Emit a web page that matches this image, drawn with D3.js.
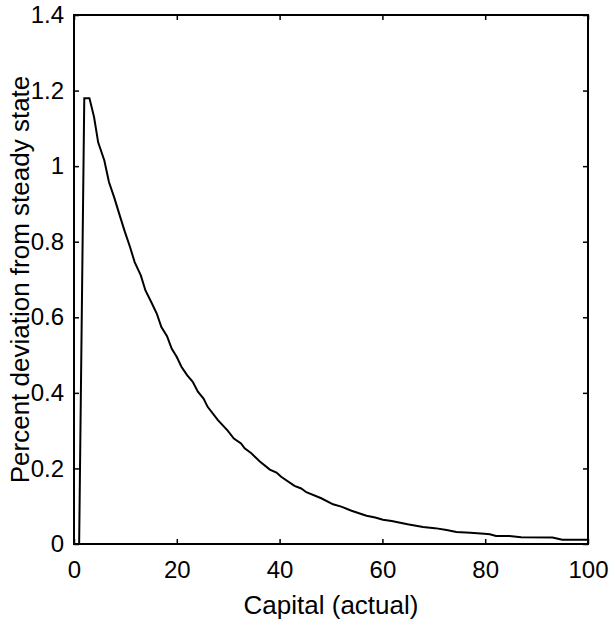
<!DOCTYPE html>
<html lang="en">
  <head>
    <meta charset="UTF-8" />
    <title>Capital impulse response</title>
    <script src="https://d3js.org/d3.v7.min.js"></script>
    <style>
      body { margin: 0; background: #fff; }
      svg text { font-family: 'Liberation Sans', Arial, sans-serif; fill: #000; }
    </style>
  </head>

  <body>
    <div class="chart"></div>

    <script>
      // values
      let capital = [1, 2, 3, 3.9, 4.7, 5.9, 6.8, 7.8, 9, 9.9, 10.9, 11.8, 13, 13.9, 15,
        16.1, 17, 18.1, 19, 20, 20.9, 22, 23.1, 24.1, 25.2, 26, 28, 29.9, 31.1, 32.5,
        33.2, 34.5, 36.1, 38.1, 39.4, 40.3, 42.9, 44.2, 45.2, 48.1, 50.4, 52, 54, 56.9,
        58.6, 60.1, 61.8, 64.9, 67.9, 70.2, 72.5, 74.4, 77.1, 79.8, 80.9, 82.1, 84.7,
        87, 93.1, 95, 100]
      let deviation = [0, 1.18, 1.18, 1.13, 1.063, 1.015, 0.958, 0.918, 0.865, 0.826,
        0.786, 0.746, 0.711, 0.671, 0.641, 0.61, 0.574, 0.55, 0.517, 0.495, 0.469,
        0.447, 0.429, 0.403, 0.385, 0.363, 0.328, 0.3, 0.279, 0.266, 0.253, 0.24,
        0.219, 0.197, 0.189, 0.178, 0.154, 0.147, 0.137, 0.121, 0.105, 0.099, 0.088,
        0.075, 0.07, 0.064, 0.061, 0.052, 0.045, 0.042, 0.037, 0.032, 0.03, 0.027,
        0.026, 0.021, 0.021, 0.018, 0.017, 0.011, 0.011]
      let xTicks = [0, 20, 40, 60, 80, 100]
      let yTicks = [0, 0.2, 0.4, 0.6, 0.8, 1, 1.2, 1.4]
      let xTitle = 'Capital (actual)'
      let yTitle = 'Percent deviation from steady state'

      let width = 615
      let height = 629
      let box = { left: 74, right: 588, top: 15, bottom: 544 }
      let tickLen = 5

      let x = d3.scaleLinear().domain([0, 100]).range([box.left, box.right])
      let y = d3.scaleLinear().domain([0, 1.4]).range([box.bottom, box.top])

      let svg = d3
        .select('div.chart')
        .append('svg')
        .attr('width', width)
        .attr('height', height)

      // matlab style: ticks point inward on all four sides, no domain path
      let fmt = d => d3.format('')(+d.toFixed(1))
      svg.append('g')
        .attr('transform', `translate(0,${box.bottom})`)
        .call(d3.axisBottom(x).tickValues(xTicks).tickSize(-tickLen).tickPadding(17).tickFormat(fmt))
      svg.append('g')
        .attr('transform', `translate(0,${box.top})`)
        .call(d3.axisTop(x).tickValues(xTicks).tickSize(-tickLen).tickFormat(''))
      svg.append('g')
        .attr('transform', `translate(${box.left},0)`)
        .call(d3.axisLeft(y).tickValues(yTicks).tickSize(-tickLen).tickPadding(10).tickFormat(fmt))
      svg.append('g')
        .attr('transform', `translate(${box.right},0)`)
        .call(d3.axisRight(y).tickValues(yTicks).tickSize(-tickLen).tickFormat(''))

      svg.selectAll('.domain').remove()
      svg.selectAll('.tick line').attr('stroke', '#000').attr('stroke-width', 1.5)
      svg.selectAll('.tick text')
        .style('font-size', '24px')
        .attr('fill', '#000')

      // the axes frame
      svg.append('rect')
        .attr('x', box.left)
        .attr('y', box.top)
        .attr('width', box.right - box.left)
        .attr('height', box.bottom - box.top)
        .attr('fill', 'none')
        .attr('stroke', '#000')
        .attr('stroke-width', 2)

      let line = d3
        .line()
        .x((d, i) => x(capital[i]))
        .y(d => y(d))

      svg.append('path')
        .datum(deviation)
        .attr('d', line)
        .attr('fill', 'none')
        .attr('stroke', '#000')
        .attr('stroke-width', 2)

      svg.append('text')
        .attr('x', (box.left + box.right) / 2)
        .attr('y', 614)
        .attr('text-anchor', 'middle')
        .style('font-size', '26px')
        .text(xTitle)

      svg.append('text')
        .attr('transform', `translate(29,${(box.top + box.bottom) / 2}) rotate(-90)`)
        .attr('text-anchor', 'middle')
        .style('font-size', '26px')
        .text(yTitle)
    </script>
  </body>
</html>
